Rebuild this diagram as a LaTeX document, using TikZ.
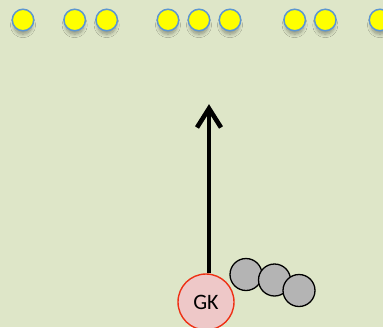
\documentclass[tikz,border=0pt]{standalone}
\usepackage{fontspec}
\setmainfont{Carlito}
\usetikzlibrary{shadows.blur}
\definecolor{pitch}{RGB}{222,230,200}
\definecolor{cone}{RGB}{255,255,0}
\definecolor{coneedge}{RGB}{91,150,210}
\definecolor{gkfill}{RGB}{238,200,200}
\definecolor{gkedge}{RGB}{238,48,20}
\definecolor{ballfill}{RGB}{180,180,180}
\tikzset{
  conedot/.style={circle, draw=coneedge, fill=cone, line width=1.5pt,
    minimum size=21.5pt, inner sep=0pt,
    blur shadow={shadow xshift=0pt, shadow yshift=-6pt, shadow scale=0.85,
      shadow blur radius=4pt, shadow blur steps=8, shadow opacity=35}},
  ball/.style={circle, draw=black, fill=ballfill, line width=1.3pt,
    minimum size=32pt, inner sep=0pt},
  keeper/.style={circle, draw=gkedge, fill=gkfill, line width=1.4pt,
    minimum size=56pt, inner sep=0pt, font=\fontsize{22}{26}\selectfont},
  run/.style={line width=4.6pt, line join=miter, miter limit=10}
}
\begin{document}
\begin{tikzpicture}[x=1pt, y=-1pt]
  \fill[pitch] (0,0) rectangle (383,327);
  \useasboundingbox (0,0) rectangle (383,327);
  % row of cones along the far line
  \foreach \n/\cx in {a/23, b/74.7, c/106.7, d/168, e/199, f/230, g/294.7, h/325.3, i/380}
    \node[conedot] (cone\n) at (\cx,20) {};
  % balls beside the keeper
  \node[ball] (ball1) at (246,274.5) {};
  \node[ball] (ball2) at (274.5,280) {};
  \node[ball] (ball3) at (299,290.5) {};
  % goalkeeper and run direction, with an open chevron head
  \node[keeper] (gk) at (206,302) {GK};
  \coordinate (runend) at (209,108.5);
  \draw[run] (gk.north -| runend) -- (runend);
  \draw[run] ([xshift=-12pt,yshift=-19pt]runend) -- (runend)
    -- ([xshift=12pt,yshift=-19pt]runend);
\end{tikzpicture}
\end{document}
